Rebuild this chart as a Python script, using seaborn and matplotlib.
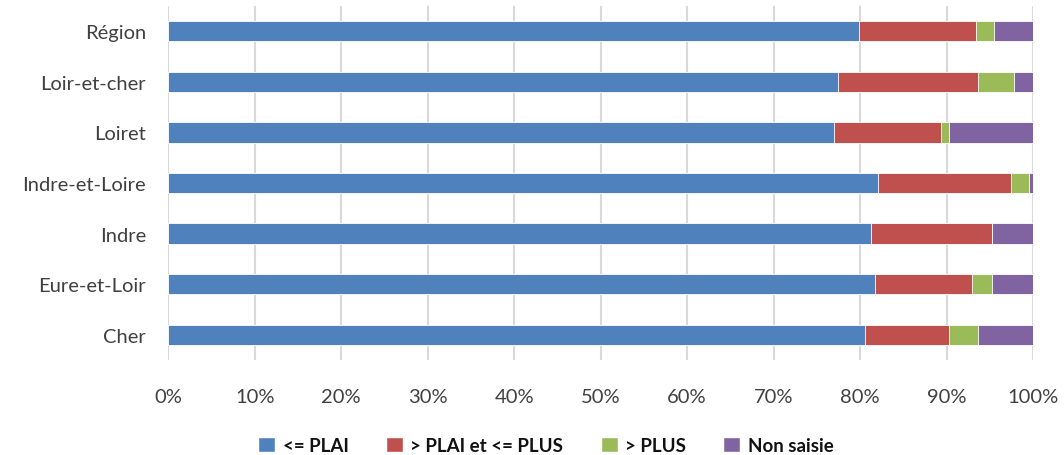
import matplotlib.pyplot as plt
import seaborn as sns
import pandas as pd
from matplotlib.patches import Patch
from matplotlib.ticker import PercentFormatter

territoires = ['Région', 'Loir-et-cher', 'Loiret', 'Indre-et-Loire', 'Indre', 'Eure-et-Loir', 'Cher']
plai = [79.9, 77.4, 77.0, 82.1, 81.3, 81.7, 80.6]
plai_plus = [13.5, 16.2, 12.3, 15.3, 14.0, 11.2, 9.7]
plus = [2.1, 4.2, 1.0, 2.1, 0.0, 2.4, 3.3]
non_saisie = [4.5, 2.2, 9.7, 0.5, 4.7, 4.7, 6.4]

series = ['<= PLAI', '> PLAI et <= PLUS', '> PLUS', 'Non saisie']
colors = ['#4F81BD', '#C0504D', '#9BBB59', '#8064A2']

df = pd.DataFrame({'Territoire': territoires, series[0]: plai, series[1]: plai_plus,
                   series[2]: plus, series[3]: non_saisie})
cum = df[series].cumsum(axis=1)
cum = cum.div(cum[series[-1]], axis=0) * 100
cum['Territoire'] = df['Territoire']

sns.set_theme(style="white")
plt.rcParams['font.family'] = ['Lato', 'DejaVu Sans']

fig, ax = plt.subplots(figsize=(10.64, 4.56), dpi=100)
fig.subplots_adjust(left=0.158, right=0.971, top=0.985, bottom=0.208)

# barres empilées : on dessine du total cumulé vers le premier segment
for name, col in zip(reversed(series), reversed(colors)):
    sns.barplot(data=cum, y='Territoire', x=name, order=territoires, color=col,
                width=0.4, orient='h', ax=ax, edgecolor='white', linewidth=0.6,
                saturation=1)

ax.set_xlim(0, 100)
ax.set_xticks(range(0, 101, 10))
ax.xaxis.set_major_formatter(PercentFormatter(decimals=0))
ax.grid(axis='x', color='#d9d9d9', linewidth=1.5)
ax.set_axisbelow(True)
for s in ax.spines.values():
    s.set_visible(False)
ax.set_xlabel('')
ax.set_ylabel('')
ax.tick_params(axis='both', labelsize=14.5, colors='#404040', length=0)
ax.tick_params(axis='x', pad=20)
ax.tick_params(axis='y', pad=16)

handles = [Patch(facecolor=c, label=s) for s, c in zip(series, colors)]
fig.legend(handles=handles, loc='lower center', ncol=4, frameon=False,
           bbox_to_anchor=(0.513, -0.035), prop={'weight': 'bold', 'size': 13.5},
           handlelength=0.9, handleheight=0.9, columnspacing=2.0, handletextpad=0.4,
           labelcolor='#111111')

plt.savefig('out.png', dpi=100)
plt.close()
